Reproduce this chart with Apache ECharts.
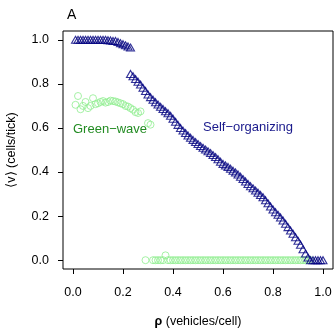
<!DOCTYPE html>
<html>
<head>
<meta charset="utf-8">
<style>
  html, body { margin: 0; padding: 0; background: #fff; }
  #chart { width: 334px; height: 330px; }
</style>
<script src="https://cdn.jsdelivr.net/npm/echarts@6/dist/echarts.min.js"></script>
</head>
<body>
<div id="chart"></div>
<script>
// self-organizing lights (blue triangles)
const soRho = [
  0.01, 0.02, 0.03, 0.04, 0.05, 0.06, 0.07, 0.08, 0.09, 0.10, 0.11, 0.12, 0.13,
  0.14, 0.15, 0.16, 0.17, 0.18, 0.19, 0.20, 0.21, 0.22, 0.23,
  0.23, 0.24, 0.25, 0.26, 0.27, 0.28, 0.29, 0.30, 0.31, 0.32, 0.33, 0.34, 0.35,
  0.36, 0.37, 0.38, 0.39, 0.40, 0.41, 0.42, 0.43, 0.44, 0.45, 0.46, 0.47, 0.48,
  0.49, 0.50, 0.51, 0.52, 0.53, 0.54, 0.55, 0.56, 0.57, 0.58, 0.59, 0.60, 0.61,
  0.62, 0.63, 0.64, 0.65, 0.66, 0.67, 0.68, 0.69, 0.70, 0.71, 0.72, 0.73, 0.74,
  0.75, 0.76, 0.77, 0.78, 0.79, 0.80, 0.81, 0.82, 0.83, 0.84, 0.85, 0.86, 0.87,
  0.88, 0.89, 0.90, 0.91, 0.92, 0.93, 0.94, 0.95, 0.96, 0.97, 0.98, 0.99, 1.00
];
const soV = [
  1.0, 1.0, 1.0, 1.0, 1.0, 1.0, 1.0, 1.0, 1.0, 1.0, 1.0, 1.0, 1.0,
  0.998, 0.997, 0.995, 0.995, 0.99, 0.985, 0.98, 0.975, 0.97, 0.965,
  0.845, 0.835, 0.822, 0.810, 0.797, 0.782, 0.768, 0.752, 0.740, 0.728, 0.717, 0.706, 0.696,
  0.686, 0.676, 0.667, 0.655, 0.642, 0.628, 0.614, 0.600, 0.588, 0.577, 0.566, 0.556, 0.546,
  0.536, 0.527, 0.518, 0.510, 0.502, 0.494, 0.486, 0.477, 0.468, 0.458, 0.447, 0.437, 0.430,
  0.423, 0.415, 0.406, 0.398, 0.389, 0.379, 0.368, 0.357, 0.346, 0.336, 0.326, 0.316, 0.306,
  0.296, 0.286, 0.272, 0.258, 0.244, 0.230, 0.218, 0.206, 0.194, 0.180, 0.165, 0.150, 0.135,
  0.120, 0.104, 0.088, 0.070, 0.050, 0.030, 0.012, 0.0, 0.0, 0.0, 0.0, 0.0, 0.0
];

// green-wave lights (light green circles)
const gwRho = [
  0.01, 0.02, 0.03, 0.04, 0.05, 0.06, 0.07, 0.08, 0.09, 0.10, 0.11, 0.12, 0.13, 0.14,
  0.15, 0.16, 0.17, 0.18, 0.19, 0.20, 0.21, 0.22, 0.23, 0.24, 0.25, 0.26, 0.27, 0.30, 0.31,
  0.29, 0.32, 0.33, 0.34, 0.35, 0.36, 0.37, 0.38, 0.39, 0.40, 0.41, 0.42, 0.43, 0.44,
  0.45, 0.46, 0.47, 0.48, 0.49, 0.50, 0.51, 0.52, 0.53, 0.54, 0.55, 0.56, 0.57, 0.58,
  0.59, 0.60, 0.61, 0.62, 0.63, 0.64, 0.65, 0.66, 0.67, 0.68, 0.69, 0.70, 0.71, 0.72,
  0.73, 0.74, 0.75, 0.76, 0.77, 0.78, 0.79, 0.80, 0.81, 0.82, 0.83, 0.84, 0.85, 0.86,
  0.87, 0.88, 0.89, 0.90, 0.91, 0.92, 0.93, 0.94, 0.95
];
const gwV = [
  0.705, 0.745, 0.685, 0.700, 0.718, 0.690, 0.700, 0.735, 0.708, 0.712, 0.718, 0.722, 0.715, 0.718,
  0.724, 0.722, 0.720, 0.716, 0.712, 0.708, 0.700, 0.697, 0.690, 0.683, 0.672, 0.668, 0.675, 0.622, 0.615,
  0, 0, 0, 0, 0, 0, 0.022, 0, 0, 0, 0, 0, 0, 0,
  0, 0, 0, 0, 0, 0, 0, 0, 0, 0, 0, 0, 0, 0,
  0, 0, 0, 0, 0, 0, 0, 0, 0, 0, 0, 0, 0, 0,
  0, 0, 0, 0, 0, 0, 0, 0, 0, 0, 0, 0, 0, 0,
  0, 0, 0, 0, 0, 0, 0, 0, 0
];

const tickVals = [0, 0.2, 0.4, 0.6, 0.8, 1.0];

const FONT = "'Liberation Sans', Arial, Helvetica, sans-serif";
const NAVY = "#000080";
const LIGHTGREEN = "#90EE90";

const chart = echarts.init(document.getElementById("chart"));

function axisCommon() {
  return {
    type: "value",
    min: -0.04,
    max: 1.04,
    axisLine: { show: false, onZero: false },
    splitLine: { show: false },
    axisTick: { show: true, length: 5, customValues: tickVals, lineStyle: { color: "#000" } },
    axisLabel: {
      customValues: tickVals,
      formatter: (v) => v.toFixed(1),
      color: "#000",
      fontSize: 12.5,
      fontFamily: FONT
    },
    nameLocation: "middle",
    nameTextStyle: { color: "#000", fontSize: 12.5, fontFamily: FONT }
  };
}

const xAxis = axisCommon();
xAxis.name = "{b|ρ} (vehicles/cell)";
xAxis.nameGap = 46;
xAxis.nameTextStyle.rich = { b: { fontWeight: "bold", fontSize: 12.5, fontFamily: FONT, color: "#000" } };
xAxis.axisLabel.margin = 17;

const yAxis = axisCommon();
yAxis.name = "⟨v⟩ (cells/tick)";
yAxis.nameGap = 45;
yAxis.axisLabel.margin = 14;

chart.setOption({
  animation: false,
  grid: {
    left: 63, right: 1, top: 31, bottom: 61,
    outerBoundsMode: "none",
    show: true, borderColor: "#000", borderWidth: 1, backgroundColor: "transparent"
  },
  xAxis: xAxis,
  yAxis: yAxis,
  series: [
    {
      name: "Green-wave",
      type: "scatter",
      symbol: "circle",
      symbolSize: 7,
      data: gwRho.map((r, i) => [r, gwV[i]]),
      itemStyle: { color: "transparent", borderColor: LIGHTGREEN, borderWidth: 1 },
      z: 2
    },
    {
      name: "Self-organizing",
      type: "scatter",
      symbol: "triangle",
      symbolSize: [8, 7],
      data: soRho.map((r, i) => [r, soV[i]]),
      itemStyle: { color: "transparent", borderColor: NAVY, borderWidth: 1.1 },
      z: 3
    }
  ],
  graphic: [
    { type: "text", left: 67, top: 8, style: { text: "A", fontSize: 14, fontFamily: FONT, fill: "#000" } },
    { type: "text", x: 73, y: 129, style: { text: "Green−wave", fontSize: 13, fontFamily: FONT, fill: "#228B22", verticalAlign: "middle" } },
    { type: "text", x: 203, y: 127.5, style: { text: "Self−organizing", fontSize: 13, fontFamily: FONT, fill: "#1A1A8C", verticalAlign: "middle" } }
  ]
});
</script>
</body>
</html>
